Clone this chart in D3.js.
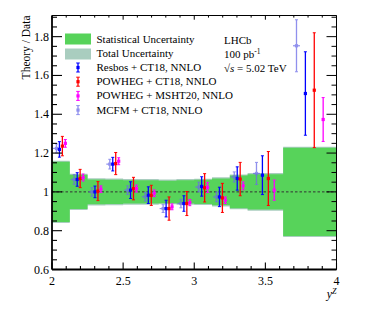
<!DOCTYPE html>
<html><head><meta charset="utf-8">
<script src="https://cdn.jsdelivr.net/npm/d3@7"></script>
<style>body{margin:0;background:#fff}svg{display:block}text{font-family:"Liberation Serif","Times New Roman",serif;fill:#000}</style>
</head><body>
<svg id="c" width="374" height="322"></svg>
<script>
const binEdges = [2.0,2.125,2.25,2.375,2.5,2.625,2.75,2.875,3.0,3.125,3.25,3.375,3.625,4.0];
const statUnc  = [0.155,0.088,0.064,0.063,0.06,0.06,0.058,0.06,0.062,0.069,0.084,0.091,0.227];
const totalUnc = [0.161,0.094,0.070,0.069,0.066,0.066,0.064,0.066,0.068,0.075,0.090,0.097,0.233];

const resbos     = [1.219,1.064,1.000,1.143,1.009,0.983,0.914,0.940,1.028,0.974,1.069,1.086,1.507];
const resbosErr  = [0.040,0.035,0.030,0.035,0.043,0.043,0.043,0.040,0.050,0.050,0.060,0.100,0.215];
const powhegCT   = [1.236,1.069,1.004,1.146,1.017,0.982,0.914,0.940,1.021,0.969,1.066,1.069,1.524];
const powhegCTErr= [0.050,0.047,0.049,0.057,0.058,0.052,0.060,0.062,0.073,0.075,0.086,0.139,0.296];
const powhegMS   = [1.250,1.074,1.014,1.158,1.017,0.993,0.923,0.945,1.023,0.957,1.031,1.009,1.373];
const powhegMSErr= [0.020,0.018,0.017,0.018,0.018,0.017,0.015,0.016,0.026,0.017,0.020,0.052,0.113];
const mcfm       = [1.224,1.064,1.000,1.143,1.009,0.975,0.914,0.940,1.025,0.974,1.077,1.095,1.753];
const mcfmErr    = [0.023,0.025,0.022,0.025,0.022,0.022,0.020,0.022,0.025,0.025,0.026,0.057,0.134];

const seriesNames = ["Resbos + CT18, NNLO","POWHEG + CT18, NNLO","POWHEG + MSHT20, NNLO","MCFM + CT18, NNLO"];
const xTicks = [2,2.5,3,3.5,4];
const yTicks = [0.6,0.8,1,1.2,1.4,1.6,1.8];

const svg = d3.select("#c");
const L=52, R=336.5, T=15.5, B=269.5;
const x = d3.scaleLinear().domain([2,4]).range([L,R]);
const y = d3.scaleLinear().domain([0.6,1.909]).range([B,T]);

const bins = binEdges.slice(0,-1).map((lo,i)=>({lo,hi:binEdges[i+1],stat:statUnc[i],tot:totalUnc[i]}));
svg.append("clipPath").attr("id","pc").append("rect").attr("x",L).attr("y",T).attr("width",R-L).attr("height",B-T);
const g = svg.append("g").attr("clip-path","url(#pc)");

function bandPath(key){
  let top=[],bot=[];
  bins.forEach(b=>{top.push([x(b.lo),y(1+b[key])],[x(b.hi),y(1+b[key])]);bot.push([x(b.lo),y(1-b[key])],[x(b.hi),y(1-b[key])]);});
  return d3.line()(top.concat(bot.reverse()))+"Z";
}
g.append("path").attr("d",bandPath("tot")).attr("fill","#a9cdbf");
g.append("path").attr("d",bandPath("stat")).attr("fill","#57d35a");
g.append("line").attr("x1",L).attr("x2",R).attr("y1",y(1)).attr("y2",y(1)).attr("stroke","#333").attr("stroke-width",1).attr("stroke-dasharray","2.5,2");

const series = [
  {vals:mcfm,errs:mcfmErr,color:"#6b6be8",frac:0.25,op:0.75,hbar:true},
  {vals:resbos,errs:resbosErr,color:"#0000ff",frac:0.4167,op:1,hbar:false},
  {vals:powhegCT,errs:powhegCTErr,color:"#ff0000",frac:0.5833,op:1,hbar:false},
  {vals:powhegMS,errs:powhegMSErr,color:"#ff00ff",frac:0.75,op:1,hbar:false}
];
series.forEach(s=>{
  const sg = g.append("g").attr("opacity",s.op);
  s.vals.forEach((v,i)=>{
    const b=bins[i];
    const px = x(b.lo+(b.hi-b.lo)*s.frac);
    const y1=y(v+s.errs[i]), y0=y(v-s.errs[i]), py=y(v);
    sg.append("line").attr("x1",px).attr("x2",px).attr("y1",y1).attr("y2",y0).attr("stroke",s.color).attr("stroke-width",1.3);
    sg.append("line").attr("x1",px-1.5).attr("x2",px+1.5).attr("y1",y1).attr("y2",y1).attr("stroke",s.color).attr("stroke-width",1);
    sg.append("line").attr("x1",px-1.5).attr("x2",px+1.5).attr("y1",y0).attr("y2",y0).attr("stroke",s.color).attr("stroke-width",1);
    if(s.hbar) sg.append("line").attr("x1",px-3.5).attr("x2",px+3.5).attr("y1",py).attr("y2",py).attr("stroke",s.color).attr("stroke-width",1.2);
    sg.append("rect").attr("x",px-1.6).attr("y",py-1.6).attr("width",3.2).attr("height",3.2).attr("fill",s.color);
  });
});

// axes
const ax = svg.append("g");
ax.append("line").attr("x1",L).attr("x2",R).attr("y1",T).attr("y2",T).attr("stroke","#000").attr("stroke-width",1);
ax.append("line").attr("x1",R).attr("x2",R).attr("y1",T).attr("y2",B).attr("stroke","#000").attr("stroke-width",1);
ax.append("line").attr("x1",L).attr("x2",R).attr("y1",B).attr("y2",B).attr("stroke","#000").attr("stroke-width",1.8);
ax.append("line").attr("x1",L).attr("x2",L).attr("y1",T).attr("y2",B).attr("stroke","#000").attr("stroke-width",1.8);
d3.range(0,21).forEach(k=>{
  const v=2+k*0.1, major=(k%5===0), px=x(v);
  const len = major?7:3.5;
  ax.append("line").attr("x1",px).attr("x2",px).attr("y1",B).attr("y2",B-len).attr("stroke","#000").attr("stroke-width",1.1);
  ax.append("line").attr("x1",px).attr("x2",px).attr("y1",T).attr("y2",T+len*0.6).attr("stroke","#000").attr("stroke-width",1);
});
xTicks.forEach(v=>ax.append("text").attr("x",x(v)).attr("y",B+15).attr("text-anchor","middle").attr("font-size",12).text(v));
d3.range(0,27).forEach(k=>{
  const v=0.6+k*0.05, major=(k%4===0), py=y(v);
  if(py<T-0.5) return;
  const len = major?10:5;
  ax.append("line").attr("x1",L).attr("x2",L+len).attr("y1",py).attr("y2",py).attr("stroke","#000").attr("stroke-width",1.1);
  ax.append("line").attr("x1",R).attr("x2",R-len).attr("y1",py).attr("y2",py).attr("stroke","#000").attr("stroke-width",1);
});
yTicks.forEach(v=>ax.append("text").attr("x",L-3).attr("y",y(v)+4).attr("text-anchor","end").attr("font-size",12).text(v));
ax.append("text").attr("transform",`translate(30,${T}) rotate(-90)`).attr("text-anchor","end").attr("font-size",11.5).text("Theory / Data");
const xt = ax.append("text").attr("x",R).attr("y",B+28).attr("text-anchor","end").attr("font-size",12);
xt.append("tspan").attr("font-style","italic").text("y");
xt.append("tspan").attr("font-size",8).attr("dy",-4).attr("font-style","italic").text("Z");

// legend
const lg = svg.append("g");
lg.append("rect").attr("x",65).attr("y",33.5).attr("width",26).attr("height",11).attr("fill","#57d35a");
lg.append("rect").attr("x",65).attr("y",48.5).attr("width",26).attr("height",11).attr("fill","#a9cdbf");
const labels = ["Statistical Uncertainty","Total Uncertainty"].concat(seriesNames);
labels.forEach((t,i)=>lg.append("text").attr("x",96.5).attr("y",42.5+i*14.2).attr("font-size",11).text(t));
const legSeries=[series[1],series[2],series[3],series[0]];
legSeries.forEach((s,i)=>{
  const cy=67.5+i*14.2, cx=78;
  const sg=lg.append("g").attr("opacity",s.op);
  sg.append("line").attr("x1",cx).attr("x2",cx).attr("y1",cy-4.5).attr("y2",cy+4.5).attr("stroke",s.color).attr("stroke-width",1.3);
  sg.append("line").attr("x1",cx-1.8).attr("x2",cx+1.8).attr("y1",cy-4.5).attr("y2",cy-4.5).attr("stroke",s.color);
  sg.append("line").attr("x1",cx-1.8).attr("x2",cx+1.8).attr("y1",cy+4.5).attr("y2",cy+4.5).attr("stroke",s.color);
  sg.append("rect").attr("x",cx-1.6).attr("y",cy-1.6).attr("width",3.2).attr("height",3.2).attr("fill",s.color);
});
lg.append("text").attr("x",224).attr("y",43.5).attr("font-size",11).text("LHCb");
const pb=lg.append("text").attr("x",224).attr("y",57.5).attr("font-size",11);
pb.append("tspan").text("100 pb");
pb.append("tspan").attr("dy",-4).attr("font-size",7.5).text("-1");
const rs=lg.append("text").attr("x",224).attr("y",71.5).attr("font-size",11);
rs.append("tspan").text("√");
rs.append("tspan").attr("font-style","italic").text("s");
rs.append("tspan").text(" = 5.02 TeV");
</script>
</body></html>
